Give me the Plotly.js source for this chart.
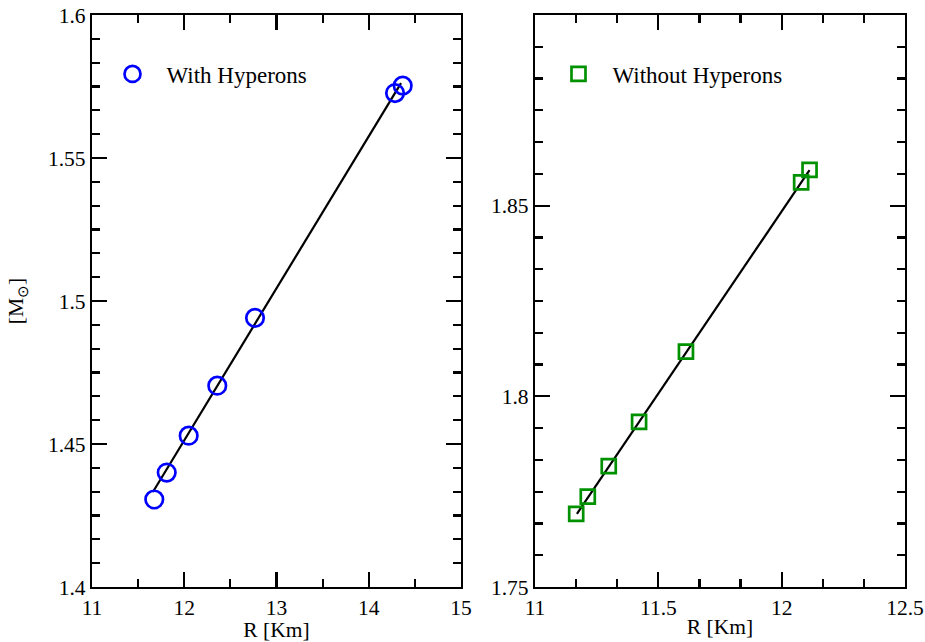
<!DOCTYPE html>
<html>
<head>
<meta charset="utf-8">
<script src="https://cdn.plot.ly/plotly-3.0.1.min.js"></script>
<style>html,body{margin:0;padding:0;background:#fff;}#chart{width:925px;height:642px;}</style>
</head>
<body>
<div id="chart"></div>
<script>
// With hyperons (left panel)
const withR = [11.675, 11.81, 12.048, 12.358, 12.767, 14.285, 14.368];
const withM = [1.4306, 1.4400, 1.4529, 1.4704, 1.4941, 1.5727, 1.5753];
const withFitR = [11.66, 14.35];
const withFitM = [1.4332, 1.5762];

// Without hyperons (right panel)
const withoutR = [11.167, 11.214, 11.299, 11.422, 11.612, 12.079, 12.113];
const withoutM = [1.7692, 1.7737, 1.7817, 1.7933, 1.8117, 1.8561, 1.8594];
const withoutFitR = [11.17, 12.113];
const withoutFitM = [1.7692, 1.8593];

// Tick labels
const leftXTicks = [11, 12, 13, 14, 15];
const leftXText = ["11", "12", "13", "14", "15"];
const leftYTicks = [1.4, 1.45, 1.5, 1.55, 1.6];
const leftYText = ["1.4", "1.45", "1.5", "1.55", "1.6"];
const rightXTicks = [11, 11.5, 12, 12.5];
const rightXText = ["11", "11.5", "12", "12.5"];
const rightYTicks = [1.75, 1.8, 1.85];
const rightYText = ["1.75", "1.8", "1.85"];

const FONT = "Liberation Serif, Times New Roman, serif";
const FS = 21.5;

const traces = [
  {x: withFitR, y: withFitM, xaxis: 'x', yaxis: 'y', mode: 'lines',
   line: {color: 'black', width: 2.2}, showlegend: false, hoverinfo: 'skip'},
  {x: withR, y: withM, xaxis: 'x', yaxis: 'y', mode: 'markers', name: 'With Hyperons',
   legend: 'legend',
   marker: {symbol: 'circle-open', size: 17.5, color: '#0000ff', line: {width: 2.7, color: '#0000ff'}}},
  {x: withoutFitR, y: withoutFitM, xaxis: 'x2', yaxis: 'y2', mode: 'lines',
   line: {color: 'black', width: 2.2}, showlegend: false, hoverinfo: 'skip'},
  {x: withoutR, y: withoutM, xaxis: 'x2', yaxis: 'y2', mode: 'markers', name: 'Without Hyperons',
   legend: 'legend2',
   marker: {symbol: 'square-open', size: 14, color: '#009100', line: {width: 2.7, color: '#009100'}}}
];

function axisBase() {
  return {
    showgrid: false, zeroline: false, showline: true, mirror: 'ticks',
    linecolor: 'black', linewidth: 2.2,
    ticks: 'inside', ticklen: 15, tickwidth: 2.2, tickcolor: 'black',
    tickfont: {family: FONT, size: FS, color: 'black'},
    tickmode: 'array', automargin: false, fixedrange: true
  };
}

const layout = {
  width: 925, height: 642,
  margin: {l: 0, r: 0, t: 0, b: 0},
  paper_bgcolor: 'white', plot_bgcolor: 'white',
  font: {family: FONT, color: 'black', size: FS},
  xaxis: Object.assign(axisBase(), {
    domain: [92/925, 461/925], anchor: 'y', range: [11, 15],
    tickvals: leftXTicks, ticktext: leftXText,
    minor: {dtick: 0.5, ticks: 'inside', ticklen: 8, tickwidth: 2.2, tickcolor: 'black', showgrid: false},
    title: {text: 'R [Km]', font: {family: FONT, size: FS, color: 'black'}, standoff: 0}
  }),
  yaxis: Object.assign(axisBase(), {
    domain: [55/642, 627/642], anchor: 'x', range: [1.4, 1.6],
    tickvals: leftYTicks, ticktext: leftYText,
    minor: {dtick: 0.05/6, tick0: 1.4, ticks: 'inside', ticklen: 8, tickwidth: 2.2, tickcolor: 'black', showgrid: false},
    title: {text: '[M<sub>⊙</sub>]', font: {family: FONT, size: FS, color: 'black'}, standoff: 18}
  }),
  xaxis2: Object.assign(axisBase(), {
    domain: [535/925, 905/925], anchor: 'y2', range: [11, 12.5],
    tickvals: rightXTicks, ticktext: rightXText,
    minor: {dtick: 0.5/3, tick0: 11, ticks: 'inside', ticklen: 8, tickwidth: 2.2, tickcolor: 'black', showgrid: false},
    title: {text: 'R [Km]', font: {family: FONT, size: FS, color: 'black'}, standoff: 0}
  }),
  yaxis2: Object.assign(axisBase(), {
    domain: [55/642, 627/642], anchor: 'x2', range: [1.75, 1.9],
    tickvals: rightYTicks, ticktext: rightYText,
    minor: {dtick: 0.05/6, tick0: 1.75, ticks: 'inside', ticklen: 8, tickwidth: 2.2, tickcolor: 'black', showgrid: false}
  }),
  legend: {x: 98.5/925, y: 1 - 74/642, xref: 'paper', yref: 'paper', xanchor: 'left', yanchor: 'middle',
    bgcolor: 'rgba(0,0,0,0)', borderwidth: 0, font: {family: FONT, size: 23, color: 'black'},
    itemwidth: 58},
  legend2: {x: 544.5/925, y: 1 - 74/642, xref: 'paper', yref: 'paper', xanchor: 'left', yanchor: 'middle',
    bgcolor: 'rgba(0,0,0,0)', borderwidth: 0, font: {family: FONT, size: 23, color: 'black'},
    itemwidth: 58}
};

Plotly.newPlot('chart', traces, layout, {displayModeBar: false, staticPlot: true});
</script>
</body>
</html>
